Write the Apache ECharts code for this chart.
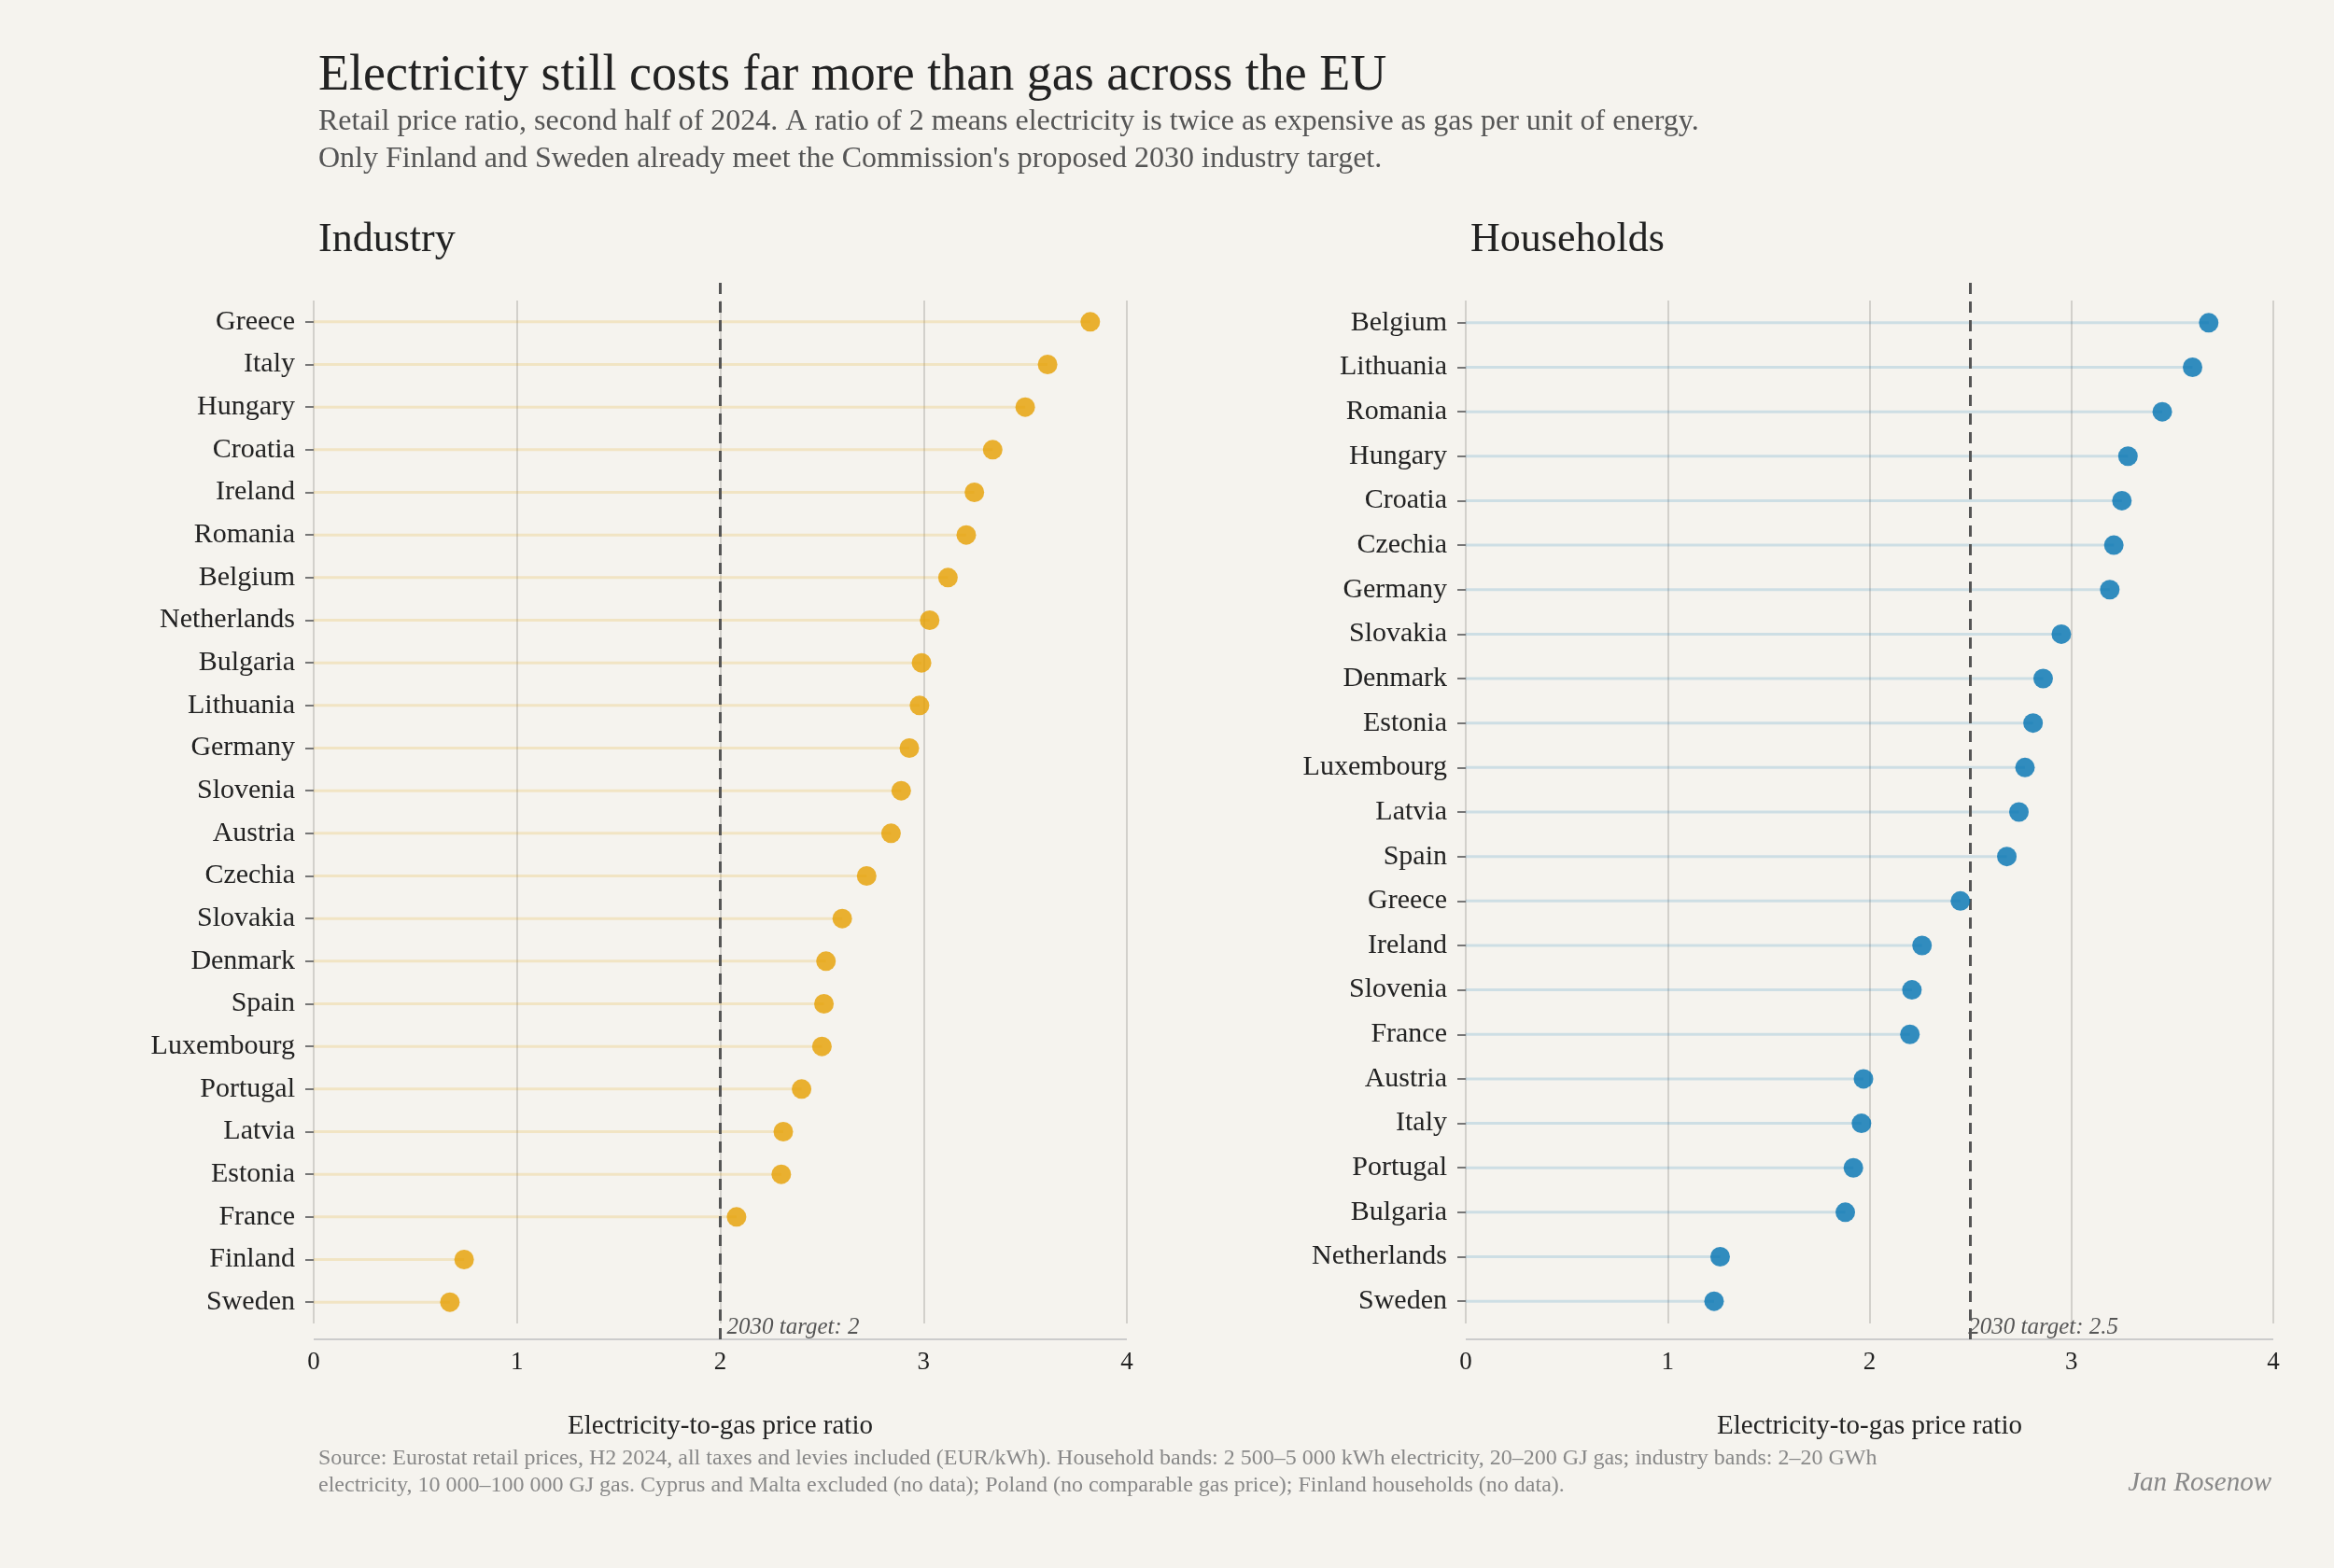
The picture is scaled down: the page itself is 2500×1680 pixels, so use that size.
<!DOCTYPE html>
<html><head><meta charset="utf-8">
<script src="https://cdn.jsdelivr.net/npm/echarts@6/dist/echarts.min.js"></script>
<style>html,body{margin:0;background:#f5f3ee}#c{width:2500px;height:1680px}</style>
</head><body><div id="c"></div>
<script>
const industryCountries = ['Greece','Italy','Hungary','Croatia','Ireland','Romania','Belgium','Netherlands','Bulgaria','Lithuania','Germany','Slovenia','Austria','Czechia','Slovakia','Denmark','Spain','Luxembourg','Portugal','Latvia','Estonia','France','Finland','Sweden'];
const industryValues = [3.82,3.61,3.50,3.34,3.25,3.21,3.12,3.03,2.99,2.98,2.93,2.89,2.84,2.72,2.60,2.52,2.51,2.50,2.40,2.31,2.30,2.08,0.74,0.67];
const householdCountries = ['Belgium','Lithuania','Romania','Hungary','Croatia','Czechia','Germany','Slovakia','Denmark','Estonia','Luxembourg','Latvia','Spain','Greece','Ireland','Slovenia','France','Austria','Italy','Portugal','Bulgaria','Netherlands','Sweden'];
const householdValues = [3.68,3.60,3.45,3.28,3.25,3.21,3.19,2.95,2.86,2.81,2.77,2.74,2.68,2.45,2.26,2.21,2.20,1.97,1.96,1.92,1.88,1.26,1.23];
const xTicks = [0,1,2,3,4];
const FONT = '"Liberation Serif", "DejaVu Serif", serif';
const TEXT = '#222';

const chart = echarts.init(document.getElementById('c'));
const grids = [
  { left: 336, right: 1293, top: 322, bottom: 262 },
  { left: 1570, right: 65, top: 322, bottom: 262 },
];
const xAxis = grids.map((g, i) => ({
  type: 'value', gridIndex: i, min: xTicks[0], max: xTicks[xTicks.length - 1], interval: 1,
  name: 'Electricity-to-gas price ratio', nameLocation: 'middle', nameGap: 96,
  nameTextStyle: { fontFamily: FONT, fontSize: 29, color: TEXT },
  axisLabel: { fontFamily: FONT, fontSize: 27, color: TEXT, margin: 28 },
  axisLine: { show: false },
  axisTick: { show: false },
  splitLine: { show: true, lineStyle: { color: '#d2d0cb', width: 2 } },
}));
const yAxis = [industryCountries, householdCountries].map((cats, i) => ({
  type: 'category', gridIndex: i, data: cats, inverse: true,
  axisLabel: { fontFamily: FONT, fontSize: 30, color: TEXT, margin: 20 },
  axisLine: { show: false },
  axisTick: { show: true, alignWithLabel: true, length: 9, lineStyle: { color: '#777', width: 2 } },
  splitLine: { show: false },
}));
function panel(i, vals, color, stem, target, label) {
  return [
    { type: 'bar', xAxisIndex: i, yAxisIndex: i, data: vals, barWidth: 3,
      itemStyle: { color: stem }, silent: true,
      markLine: { symbol: 'none', silent: true,
        lineStyle: { color: '#555', type: [12, 8], width: 3 },
        label: { show: true, position: 'end', formatter: label, fontFamily: FONT, fontStyle: 'italic',
          fontSize: 25, color: '#555', offset: [78, -30] },
        data: [[{ xAxis: target, y: 303 }, { xAxis: target, y: 1435 }]] } },
    { type: 'scatter', xAxisIndex: i, yAxisIndex: i, data: vals, symbolSize: 21,
      itemStyle: { color: color }, z: 5 },
  ];
}
chart.setOption({
  backgroundColor: '#f5f3ee',
  animation: false,
  grid: grids,
  xAxis, yAxis,
  graphic: [
    { type: 'line', shape: { x1: 336, y1: 1435, x2: 1207, y2: 1435 }, style: { stroke: '#ccc', lineWidth: 2 } },
    { type: 'line', shape: { x1: 1570, y1: 1435, x2: 2435, y2: 1435 }, style: { stroke: '#ccc', lineWidth: 2 } },
  ],
  title: [
    { text: 'Electricity still costs far more than gas across the EU', left: 336, top: 50,
      textStyle: { fontFamily: FONT, fontSize: 54, fontWeight: 'normal', color: TEXT } },
    { text: 'Retail price ratio, second half of 2024. A ratio of 2 means electricity is twice as expensive as gas per unit of energy.\nOnly Finland and Sweden already meet the Commission\'s proposed 2030 industry target.',
      left: 336, top: 106, textStyle: { fontFamily: FONT, fontSize: 32, fontWeight: 'normal', color: '#555', lineHeight: 40 } },
    { text: 'Industry', left: 336, top: 230, textStyle: { fontFamily: FONT, fontSize: 44, fontWeight: 'normal', color: TEXT } },
    { text: 'Households', left: 1570, top: 230, textStyle: { fontFamily: FONT, fontSize: 44, fontWeight: 'normal', color: TEXT } },
    { text: 'Source: Eurostat retail prices, H2 2024, all taxes and levies included (EUR/kWh). Household bands: 2 500–5 000 kWh electricity, 20–200 GJ gas; industry bands: 2–20 GWh\nelectricity, 10 000–100 000 GJ gas. Cyprus and Malta excluded (no data); Poland (no comparable gas price); Finland households (no data).',
      left: 336, top: 1543, textStyle: { fontFamily: FONT, fontSize: 24, fontWeight: 'normal', color: '#888', lineHeight: 29 } },
    { text: 'Jan Rosenow', right: 62, top: 1570,
      textStyle: { fontFamily: FONT, fontSize: 29, fontStyle: 'italic', fontWeight: 'normal', color: '#888' } },
  ],
  series: [
    ...panel(0, industryValues, '#e69f00', 'rgba(230,159,0,0.18)', 2, '2030 target: 2'),
    ...panel(1, householdValues, '#0072b2', 'rgba(0,114,178,0.16)', 2.5, '2030 target: 2.5'),
  ],
});
</script></body></html>
